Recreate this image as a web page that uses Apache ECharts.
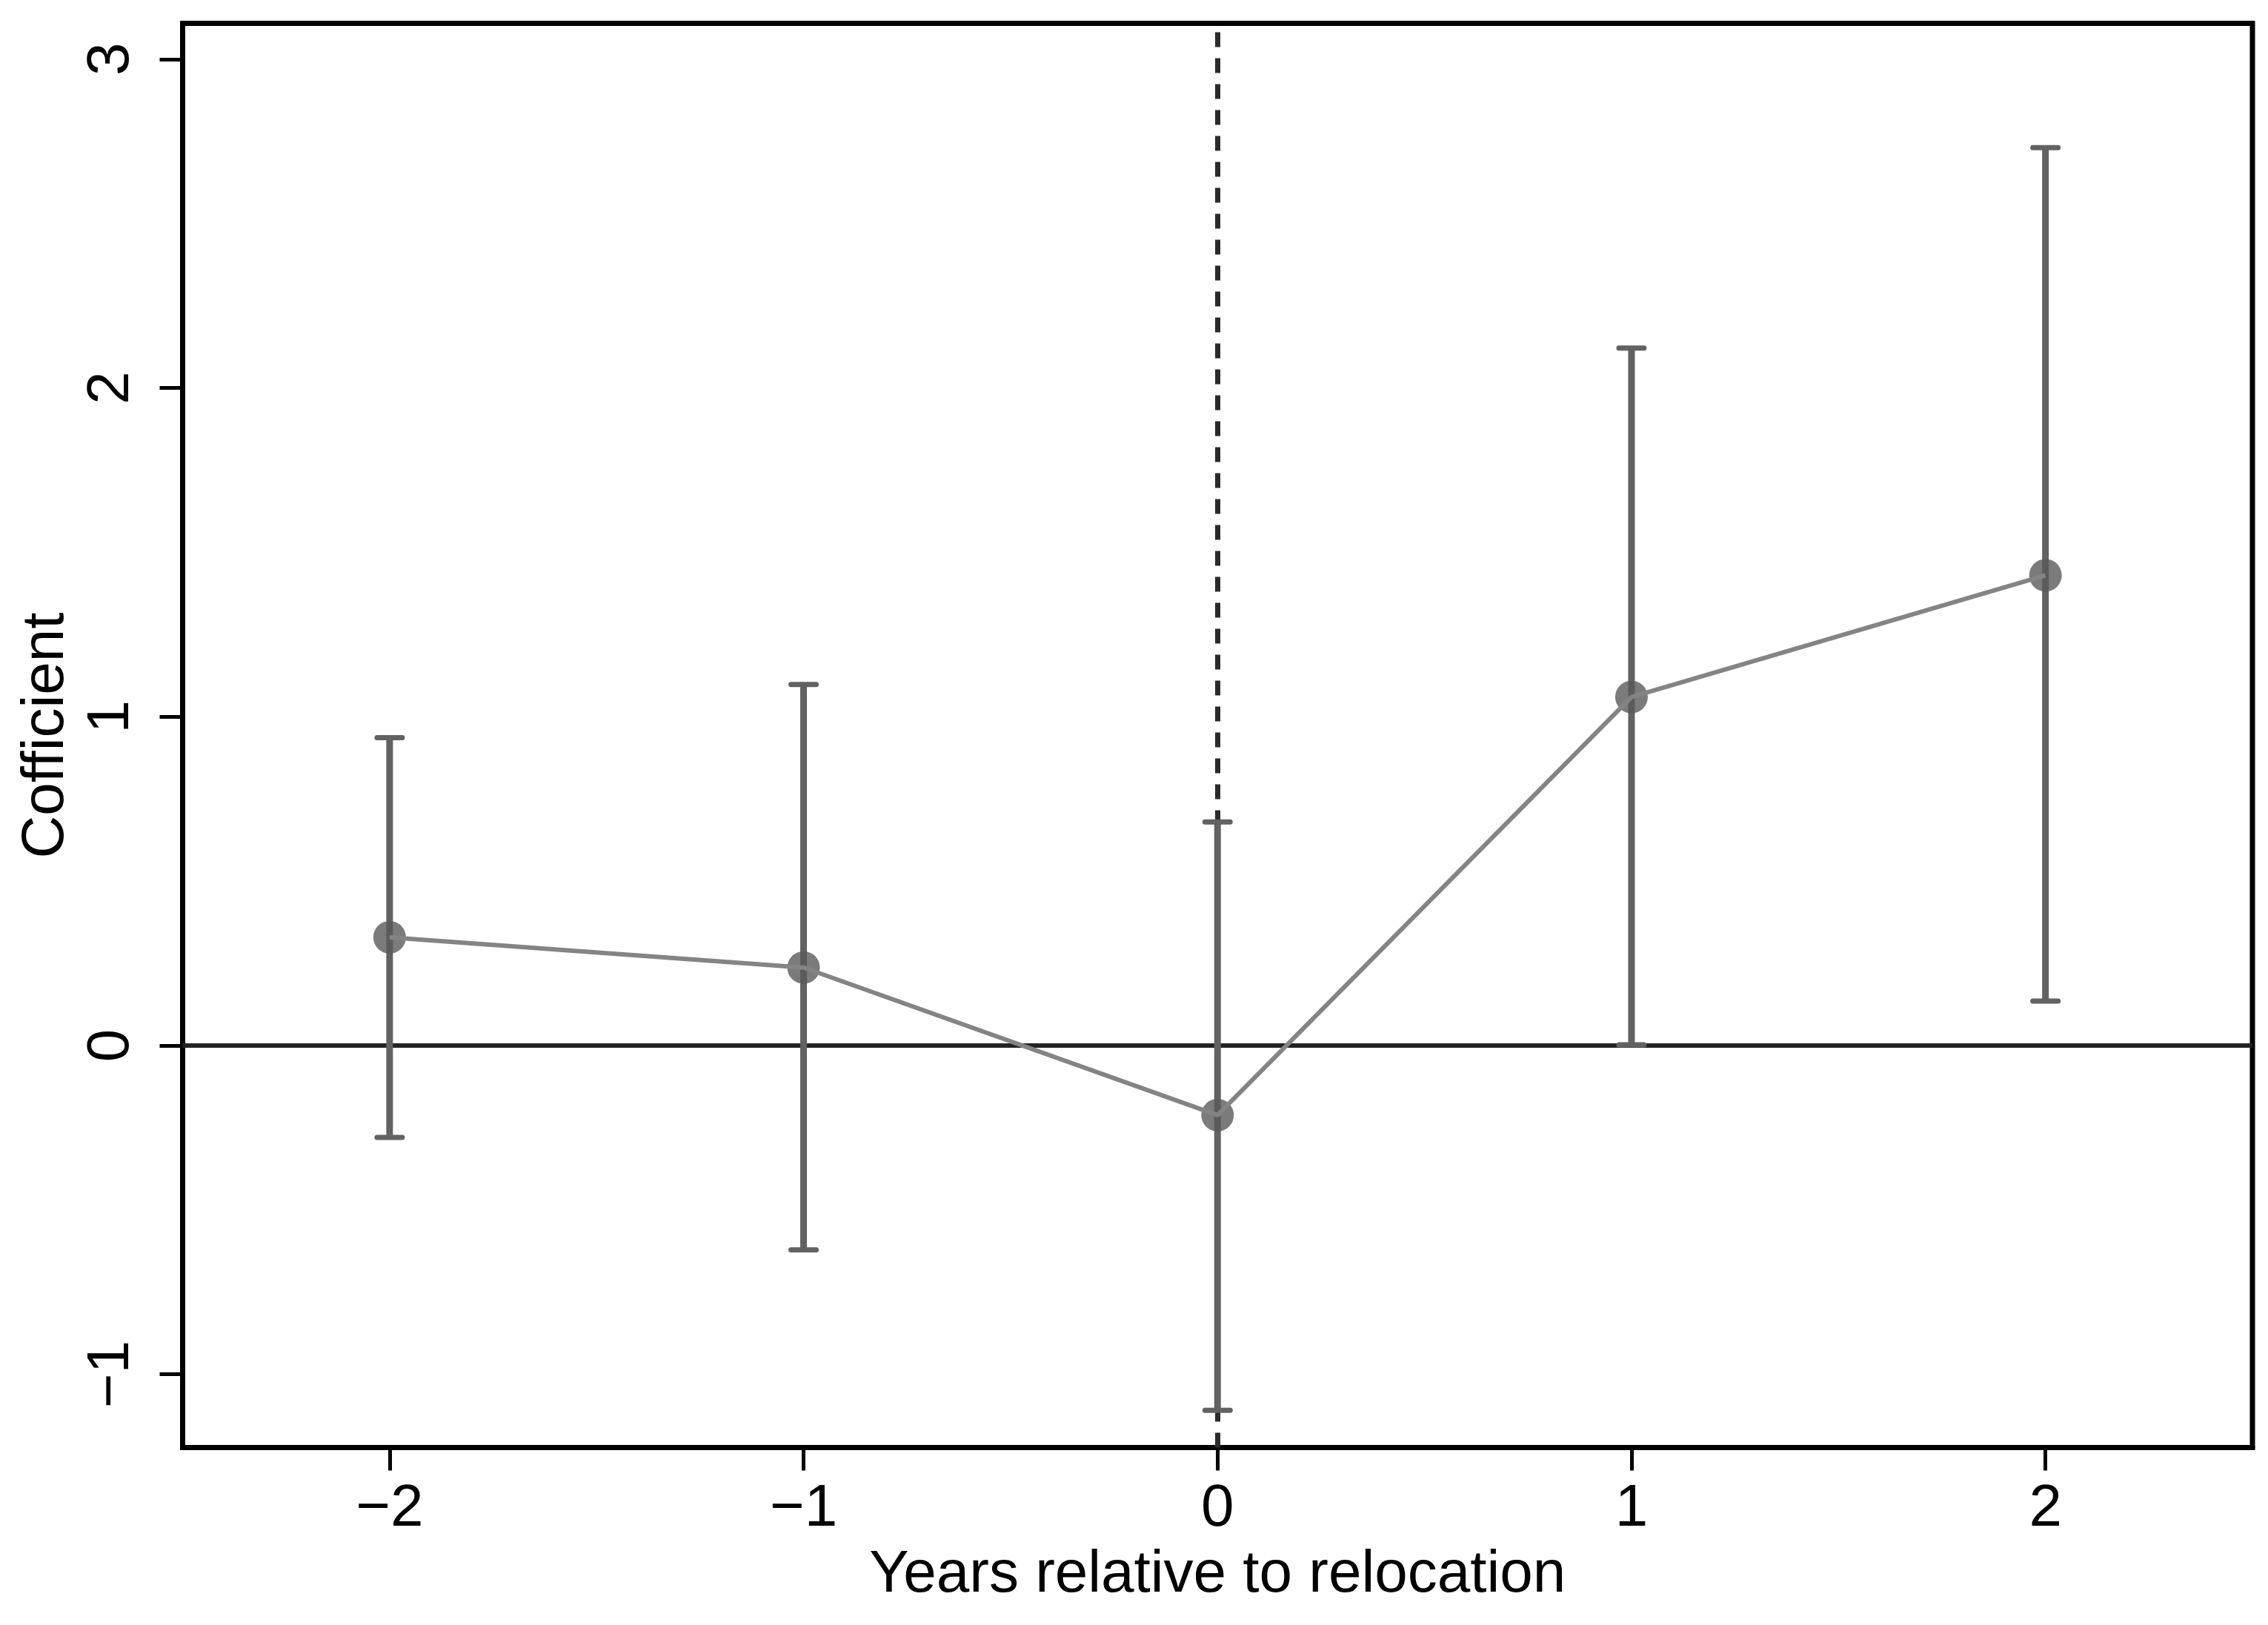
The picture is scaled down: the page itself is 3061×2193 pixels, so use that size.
<!DOCTYPE html>
<html>
<head>
<meta charset="utf-8">
<script src="https://cdn.jsdelivr.net/npm/echarts@6/dist/echarts.min.js"></script>
<style>
html,body{margin:0;padding:0;background:#fff;}
#chart{width:3061px;height:2193px;}
</style>
</head>
<body>
<div id="chart"></div>
<script>
// Event-time values
const years = [-2, -1, 0, 1, 2];
const coef = [0.329, 0.237, -0.212, 1.060, 1.430];
const ciLow = [-0.280, -0.622, -1.110, 0.002, 0.135];
const ciHigh = [0.936, 1.098, 0.680, 2.121, 2.731];
const xTicks = [-2, -1, 0, 1, 2];
const yTicks = [-1, 0, 1, 2, 3];

const FONT = '"Liberation Sans", Arial, Helvetica, sans-serif';
const fmt = v => String(v).replace('-', '\u2212');

const chart = echarts.init(document.getElementById('chart'), null, {renderer: 'canvas', devicePixelRatio: 1});

const errData = years.map((x, i) => [x, ciLow[i], ciHigh[i]]);

chart.setOption({
  animation: false,
  backgroundColor: '#ffffff',
  grid: {
    left: 246.5, right: 21, top: 31.5, bottom: 239.5,
    show: true, borderColor: '#000', borderWidth: 7, backgroundColor: 'transparent'
  },
  xAxis: {
    type: 'value', min: -2.5, max: 2.5,
    name: 'Years relative to relocation', nameLocation: 'middle', nameGap: 132,
    nameTextStyle: {fontFamily: FONT, fontSize: 80, color: '#000'},
    axisLine: {show: true, onZero: false, lineStyle: {color: '#000', width: 7}},
    axisTick: {show: true, customValues: xTicks, length: 31, lineStyle: {color: '#000', width: 5}},
    axisLabel: {customValues: xTicks, formatter: fmt, fontFamily: FONT, fontSize: 80, color: '#000', margin: 43},
    splitLine: {show: false}
  },
  yAxis: {
    type: 'value', min: -1.223, max: 3.109,
    name: 'Cofficient', nameLocation: 'middle', nameGap: 142,
    nameTextStyle: {fontFamily: FONT, fontSize: 80, color: '#000'},
    axisLine: {show: true, onZero: false, lineStyle: {color: '#000', width: 7}},
    axisTick: {show: true, customValues: yTicks, length: 31, lineStyle: {color: '#000', width: 5}},
    axisLabel: {customValues: yTicks, formatter: fmt, rotate: 90, fontFamily: FONT, fontSize: 80, color: '#000', margin: 56},
    splitLine: {show: false}
  },
  series: [
    {
      type: 'line', data: [], z: 1, silent: true,
      markLine: {
        z: 1, silent: true, symbol: 'none', label: {show: false}, animation: false,
        data: [
          {yAxis: 0, lineStyle: {color: '#222222', width: 6, type: 'solid'}},
          {xAxis: 0, lineStyle: {color: '#2a2a2a', width: 7, type: [20, 15]}}
        ]
      }
    },
    {
      type: 'custom', z: 3, silent: true,
      data: errData,
      renderItem: function (params, api) {
        const x = api.value(0);
        const lo = api.coord([x, api.value(1)]);
        const hi = api.coord([x, api.value(2)]);
        const hw = 17;
        const st = {stroke: '#626262', lineWidth: 7, lineCap: 'round'};
        return {
          type: 'group',
          children: [
            {type: 'line', shape: {x1: lo[0], y1: lo[1], x2: hi[0], y2: hi[1]}, style: {stroke: '#626262', lineWidth: 9, lineCap: 'butt'}},
            {type: 'line', shape: {x1: hi[0] - hw, y1: hi[1], x2: hi[0] + hw, y2: hi[1]}, style: st},
            {type: 'line', shape: {x1: lo[0] - hw, y1: lo[1], x2: lo[0] + hw, y2: lo[1]}, style: st}
          ]
        };
      }
    },
    {
      type: 'scatter', z: 4, silent: true,
      data: years.map((x, i) => [x, coef[i]]),
      symbol: 'circle', symbolSize: 44,
      itemStyle: {color: '#5a5a5a'}
    },
    {
      type: 'line', z: 5, silent: true,
      data: years.map((x, i) => [x, coef[i]]),
      showSymbol: false, symbol: 'none',
      lineStyle: {color: '#848484', width: 6}
    }
  ]
});
</script>
</body>
</html>
